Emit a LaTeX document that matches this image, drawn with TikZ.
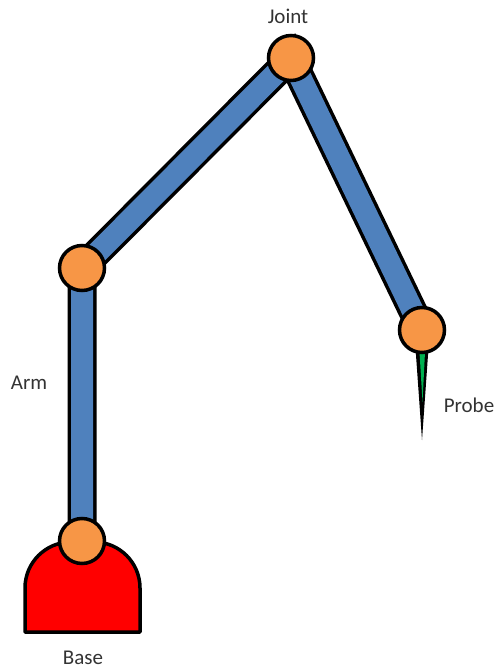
\documentclass[tikz,border=0pt]{standalone}
\usepackage{fontspec}
\setmainfont{Carlito}
\definecolor{armblue}{HTML}{4F81BD}
\definecolor{jointorange}{HTML}{F79646}
\definecolor{basered}{HTML}{FF0000}
\definecolor{probegreen}{HTML}{00B050}
\begin{document}
\begin{tikzpicture}[x=1pt,y=-1pt,
  joint/.style={circle,draw=black,line width=3.5pt,fill=jointorange,minimum size=45pt,inner sep=0pt},
  armedge/.style={line width=29pt,black},
  armfill/.style={line width=22pt,armblue},
  basestyle/.style={draw=black,line width=3.5pt,fill=basered,line join=round},
  label/.style={font=\fontsize{21}{25}\selectfont,text=black!80}]
\useasboundingbox (0,0) rectangle (496,669);

% joint positions
\coordinate (p0) at (82,541);
\coordinate (p1) at (82,268);
\coordinate (p2) at (291,58);
\coordinate (p3) at (422,330);

% arm segments: dark outline under a blue core
\draw[armedge] (p0) -- (p1) -- (p2) -- (p3);
\draw[armfill] (p0) -- (p1) -- (p2) -- (p3);

% base: flat bottom, straight sides, rounded top
\draw[basestyle] (25,632) -- (25,588)
  arc[start angle=180,end angle=270,radius=46] -- (94,542)
  arc[start angle=270,end angle=360,radius=46] -- (140,632) -- cycle;

% probe needle
\coordinate (tip) at (422,440);
\fill[black] (415.5,348) -- (428.5,348) -- (tip) -- cycle;
\fill[probegreen] (419.5,352) -- (425,352) -- (422.5,402) -- cycle;

% joints
\node[joint] (j0) at (p0) {};
\node[joint] (j1) at (p1) {};
\node[joint] (j2) at (p2) {};
\node[joint] (j3) at (p3) {};

% labels
\node[label] (ljoint) at (288,16) {Joint};
\node[label] (larm) at (29,383) {Arm};
\node[label] (lprobe) at (469,405) {Probe};
\node[label] (lbase) at (83,658) {Base};
\end{tikzpicture}
\end{document}
